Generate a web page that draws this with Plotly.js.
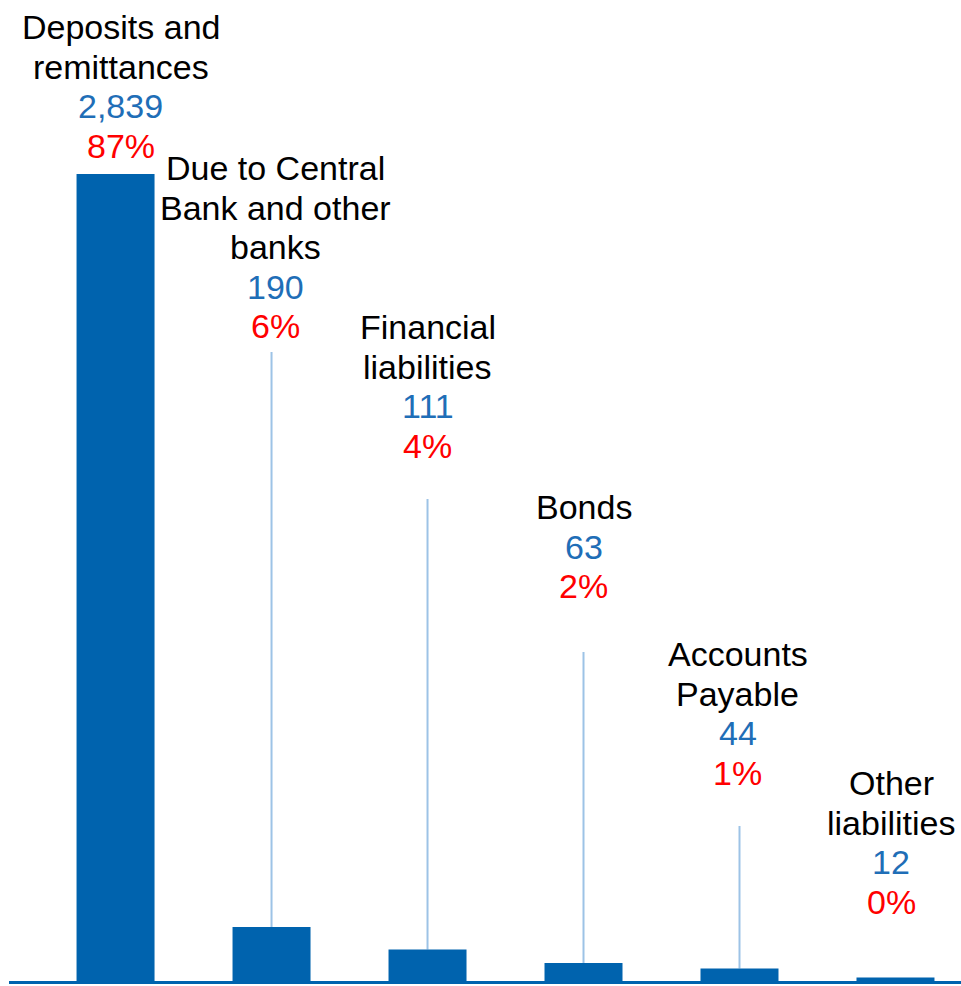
<!DOCTYPE html>
<html>
<head>
<meta charset="utf-8">
<script src="https://cdn.plot.ly/plotly-3.0.1.min.js"></script>
<style>html,body{margin:0;padding:0;background:#fff;}#chart{width:961px;height:986px;}</style>
</head>
<body>
<div id="chart"></div>
<script>
// ---- data ----
var categories = ["Deposits and remittances", "Due to Central Bank and other banks", "Financial liabilities", "Bonds", "Accounts Payable", "Other liabilities"];
var nameLines = [["Deposits and", "remittances"], ["Due to Central", "Bank and other", "banks"], ["Financial", "liabilities"], ["Bonds"], ["Accounts", "Payable"], ["Other", "liabilities"]];
var values = [2839, 190, 111, 63, 44, 12];
var shares = [87, 6, 4, 2, 1, 0];

// ---- layout constants (pixels) ----
var W = 961, H = 986;
var M = {l: 9, r: 0, t: 0, b: 5};
var plotH = H - M.t - M.b;          // 981
var yMax = 3451;
var firstBaseline = [39, 180, 339, 519, 666, 795];   // baseline of first label line
var lineStep = 39.5;
var labelShift = [5, 4, 0, 0, -2, -4];
var leaderTop = [null, 352, 499, 652, 826, null];
var FS = 34;
var FONT = "Liberation Sans, Arial, sans-serif";

function pxToData(py) { return (plotH - (py - M.t)) / plotH * yMax; }

var annotations = [];
var shapes = [];
for (var i = 0; i < categories.length; i++) {
  var lines = nameLines[i].map(function (t) { return {t: t, c: "#000000"}; });
  lines.push({t: values[i].toLocaleString("en-US"), c: "#1F6EB7"});
  lines.push({t: shares[i] + "%", c: "#FF0000"});
  for (var k = 0; k < lines.length; k++) {
    var base = firstBaseline[i] + k * lineStep;
    annotations.push({
      x: i, xref: "x", y: pxToData(base - 12), yref: "y",
      text: lines[k].t, showarrow: false,
      xanchor: "center", yanchor: "middle", xshift: labelShift[i],
      font: {family: FONT, size: FS, color: lines[k].c}
    });
  }
  if (leaderTop[i] !== null) {
    shapes.push({
      type: "line", xref: "x", yref: "y",
      x0: i, x1: i, y0: values[i], y1: pxToData(leaderTop[i]),
      line: {color: "#9DC3E6", width: 2}, layer: "below"
    });
  }
}

var trace = {
  type: "bar", x: categories.map(function (c, i) { return i; }), y: values,
  marker: {color: "#0063AE", line: {width: 0}},
  hoverinfo: "skip"
};

var layout = {
  width: W, height: H,
  margin: M,
  paper_bgcolor: "#ffffff", plot_bgcolor: "#ffffff",
  showlegend: false,
  bargap: 0.5,
  xaxis: {
    range: [-0.683, 5.42], showticklabels: false, ticks: "", showgrid: false, zeroline: false,
    showline: true, linecolor: "#0063AE", linewidth: 3, fixedrange: true
  },
  yaxis: {
    range: [0, yMax], showticklabels: false, ticks: "", showgrid: false, zeroline: false,
    showline: false, fixedrange: true
  },
  annotations: annotations,
  shapes: shapes
};

Plotly.newPlot("chart", [trace], layout, {displayModeBar: false, staticPlot: true});
</script>
</body>
</html>
